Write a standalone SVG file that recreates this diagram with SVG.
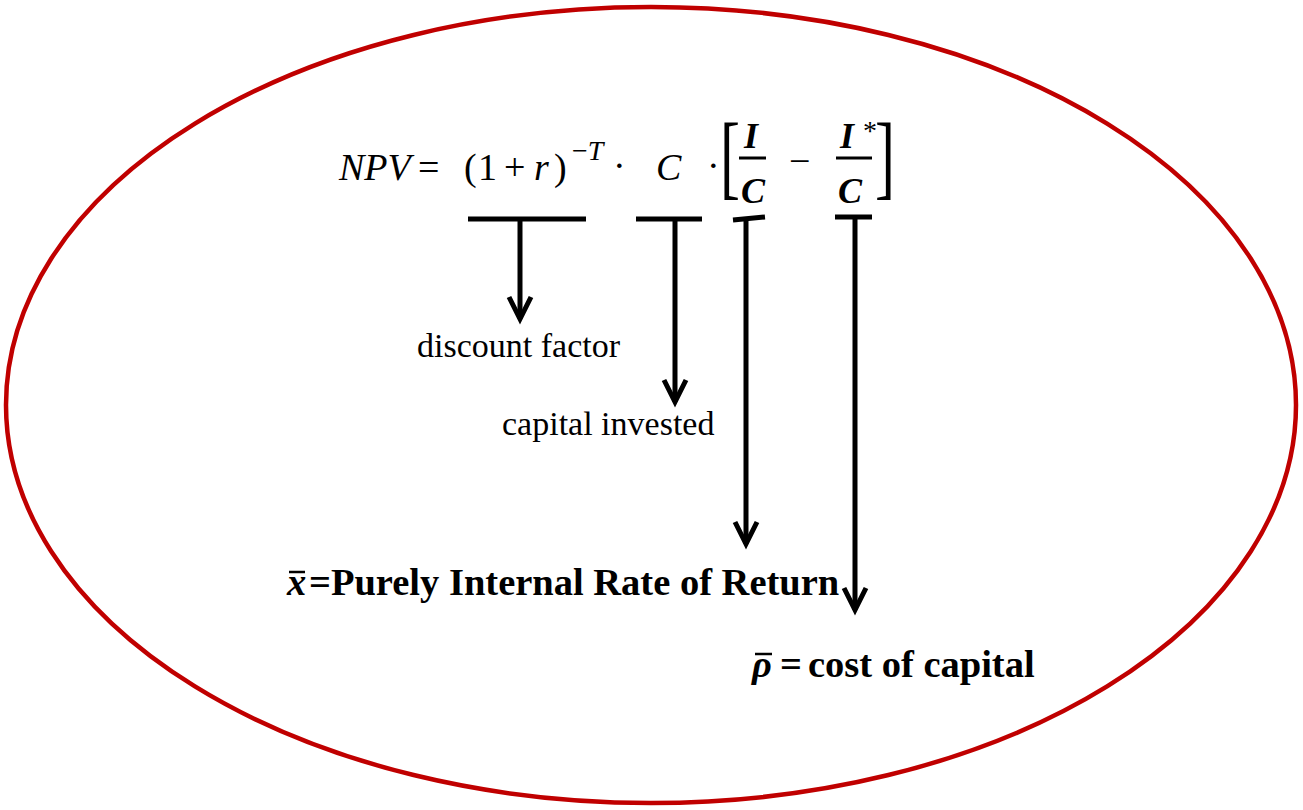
<svg xmlns="http://www.w3.org/2000/svg" width="1303" height="810" viewBox="0 0 1303 810">
<style>
.m{font-family:"Liberation Serif","DejaVu Serif",serif;font-size:38px;fill:#000}
.mi{font-style:italic}
.mb{font-weight:bold;font-style:italic;font-size:36px}
.sup{font-size:28px}
.br{font-size:60px}
.lbl{font-family:"Liberation Serif","Times New Roman",serif;font-size:34px;fill:#000}
.blbl{font-family:"Liberation Serif","Times New Roman",serif;font-size:38.5px;font-weight:bold;fill:#000}
.bar{stroke:#000;stroke-width:5;fill:none}
.conn{stroke:#000;stroke-width:5;fill:none}
</style>
<defs>
<marker id="ah" markerUnits="userSpaceOnUse" markerWidth="40" markerHeight="40" viewBox="-30 -20 40 40" refX="0" refY="0" orient="auto" overflow="visible">
<path d="M-22,-11 L0,0 L-22,11" stroke="#000" stroke-width="5" fill="none"/>
</marker>
</defs>
<rect width="1303" height="810" fill="#fff"/>
<ellipse id="frame" cx="651" cy="405" rx="645" ry="398" fill="none" stroke="#C00000" stroke-width="4.5"/>
<g id="formula">
<text class="m mi" x="339" y="180">NPV</text>
<text class="m" x="418" y="180">=</text>
<text class="m" x="464" y="180">(</text>
<text class="m" x="478" y="180">1</text>
<text class="m" x="504" y="180">+</text>
<text class="m mi" x="534" y="180">r</text>
<text class="m" x="554" y="180">)</text>
<text class="m sup" x="572" y="160">−<tspan class="mi">T</tspan></text>
<text class="m" x="613" y="178">·</text>
<text class="m mi" x="656" y="180">C</text>
<text class="m" x="707" y="178">·</text>
<text class="m br" x="720" y="188" transform="translate(720 188) scale(1 1.55) translate(-720 -188)">[</text>
<text class="m mb" x="744" y="148">I</text>
<line x1="739" y1="158" x2="766" y2="158" stroke="#000" stroke-width="3"/>
<text class="m mb" x="741" y="203">C</text>
<text class="m" x="789" y="174">−</text>
<text class="m mb" x="840" y="148">I</text>
<text class="m sup" x="863" y="140">*</text>
<line x1="836" y1="158" x2="872" y2="158" stroke="#000" stroke-width="3"/>
<text class="m mb" x="838" y="203">C</text>
<text class="m br" x="875" y="188" transform="translate(875 188) scale(1 1.55) translate(-875 -188)">]</text>
</g>
<g id="connectors">
<line class="bar" x1="468" y1="219" x2="586" y2="219"/>
<line class="bar" x1="636" y1="219" x2="702" y2="219"/>
<line class="bar" x1="733" y1="220" x2="765" y2="217"/>
<line class="bar" x1="835" y1="217" x2="872" y2="217"/>
<line class="conn" x1="520" y1="221" x2="520" y2="319" marker-end="url(#ah)"/>
<line class="conn" x1="675" y1="221" x2="675" y2="402" marker-end="url(#ah)"/>
<line class="conn" x1="746" y1="219" x2="746" y2="544" marker-end="url(#ah)"/>
<line class="conn" x1="855" y1="219" x2="855" y2="610" marker-end="url(#ah)"/>
</g>
<g id="discount-factor">
<text class="lbl" x="417" y="357">discount factor</text>
</g>
<g id="capital-invested">
<text class="lbl" x="502" y="435">capital invested</text>
</g>
<g id="irr">
<text class="blbl" x="287" y="595"><tspan font-style="italic">x</tspan></text>
<line x1="289" y1="572" x2="305" y2="572" stroke="#000" stroke-width="2.5"/>
<text class="blbl" x="309" y="595">=Purely Internal Rate of Return</text>
</g>
<g id="cost-of-capital">
<text class="blbl" x="752" y="677"><tspan font-style="italic">ρ</tspan></text>
<line x1="755" y1="654" x2="772" y2="654" stroke="#000" stroke-width="2.5"/>
<text class="blbl" x="780" y="677">=<tspan dx="6">cost of capital</tspan></text>
</g>
</svg>
